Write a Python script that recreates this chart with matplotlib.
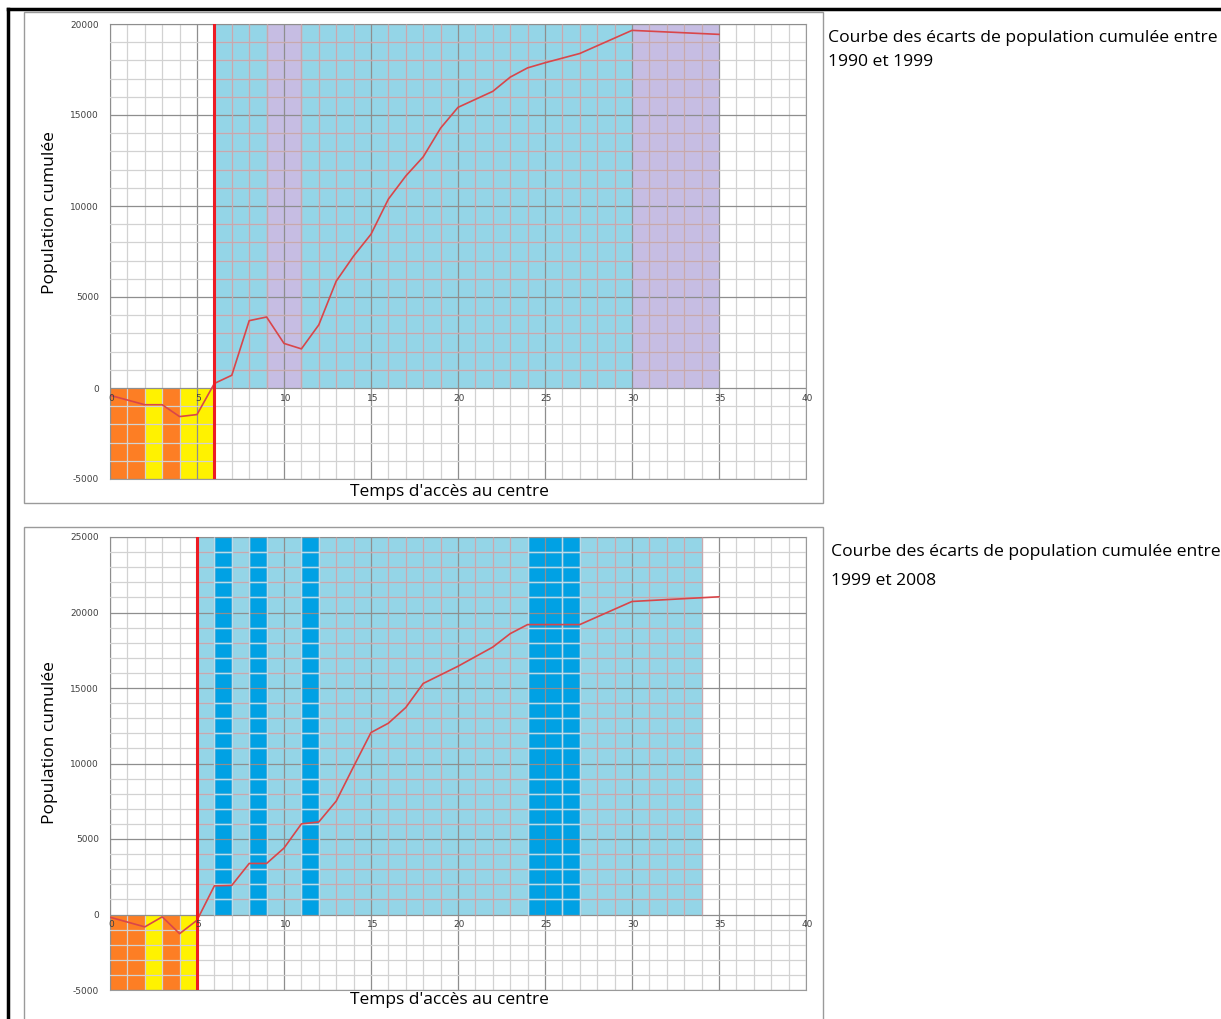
import numpy as np
import matplotlib.pyplot as plt
from matplotlib.lines import Line2D
from matplotlib.patches import Rectangle

plt.rcParams["axes.unicode_minus"] = False

# donnees 1990-1999
x_top = [0, 2, 3, 4, 5, 6, 7, 8, 9, 10, 11, 12, 13, 14, 15, 16, 17, 18, 19, 20,
         22, 23, 24, 25, 27, 30, 35]
y_top = [-400, -920, -920, -1570, -1460, 250, 700, 3700, 3900, 2450, 2150, 3470,
         5870, 7250, 8450, 10380, 11650, 12700, 14280, 15420, 16300, 17080, 17590,
         17870, 18380, 19650, 19430]
# zones (x debut, x fin, y bas, y haut, couleur)
zones_top = [(0, 2, -5000, 0, "orange"), (2, 3, -5000, 0, "jaune"),
             (3, 4, -5000, 0, "orange"), (4, 6, -5000, 0, "jaune"),
             (6, 9, 0, 20000, "bleu"), (9, 11, 0, 20000, "violet"),
             (11, 30, 0, 20000, "bleu"), (30, 35, 0, 20000, "violet")]
seuil_top = 6

# donnees 1999-2008
x_bot = [0, 2, 3, 4, 5, 6, 7, 8, 9, 10, 11, 12, 13, 14, 15, 16, 17, 18, 20,
         22, 23, 24, 27, 30, 35]
y_bot = [-180, -820, -155, -1270, -380, 1900, 1930, 3380, 3380, 4400, 6000, 6130,
         7510, 9800, 12050, 12670, 13710, 15300, 16440, 17710, 18600, 19200,
         19200, 20730, 21040]
zones_bot = [(0, 2, -5000, 0, "orange"), (2, 3, -5000, 0, "jaune"),
             (3, 4, -5000, 0, "orange"), (4, 5, -5000, 0, "jaune"),
             (5, 34, 0, 25000, "bleu"), (6, 7, 0, 25000, "bleu_fonce"),
             (8, 9, 0, 25000, "bleu_fonce"), (11, 12, 0, 25000, "bleu_fonce"),
             (24, 27, 0, 25000, "bleu_fonce")]
seuil_bot = 5

couleurs = {"orange": "#fd7e24", "jaune": "#fff200", "bleu": "#94d5e7",
            "violet": "#c6bde3", "bleu_fonce": "#00a1e4"}

W, H = 1221, 1019
fig = plt.figure(figsize=(W / 100, H / 100), dpi=100)


def px(x0, y0, x1, y1):
    return [x0 / W, 1 - y1 / H, (x1 - x0) / W, (y1 - y0) / H]


def graphe(rect, xs, ys, zones, seuil, ymax, titre, tl1_y, tl2_y, lab_y, xlab_y):
    ax = fig.add_axes(rect)
    ax.set_xlim(0, 40)
    ax.set_ylim(-5000, ymax)
    ax.set_xticks(np.arange(0, 41, 5))
    ax.set_xticks(np.arange(0, 41, 1), minor=True)
    ax.set_yticks(np.arange(-5000, ymax + 1, 5000))
    ax.set_yticks(np.arange(-5000, ymax + 1, 1000), minor=True)
    ax.set_axisbelow(False)
    ax.grid(which="minor", color="#d2d2d2", lw=0.9)
    ax.grid(which="major", color="#8e8e8e", lw=0.9)
    ax.tick_params(which="both", length=0)
    ax.tick_params(axis="y", labelsize=6.5, labelcolor="#404040", pad=8)
    ax.set_xticklabels([])
    for s in ax.spines.values():
        s.set_color("#9a9a9a")

    for x0, x1, b, h, c in zones:
        ax.fill_between([x0, x1], b, h, color=couleurs[c], lw=0, zorder=1)
        if c in ("bleu", "violet"):
            mx = [v for v in range(x0, x1 + 1) if v % 5]
            my = [v for v in range(b, h + 1, 1000) if v % 5000]
            ax.vlines(mx, b, h, color="#c8a8ae", lw=0.9, zorder=2.6)
            ax.hlines(my, x0, x1, color="#c8a8ae", lw=0.9, zorder=2.6)
        if c == "bleu_fonce":
            my = [v for v in range(b, h + 1, 1000) if v % 5000]
            ax.hlines(my, x0, x1, color="#b9dcea", lw=0.9, zorder=2.6)
            ax.vlines([v for v in range(x0, x1 + 1) if v % 5], b, h,
                      color="#b9dcea", lw=0.9, zorder=2.6)

    ax.axvline(seuil, color="#ed1c24", lw=2.2, zorder=5)
    ax.plot(xs, ys, color="#d9464a", lw=1.2, zorder=4)

    for v in range(0, 41, 5):
        ax.annotate(str(v), (v, 0), xytext=(1, -4), textcoords="offset points",
                    ha="center", va="top", fontsize=6.5, color="#404040", zorder=6)

    fig.text(50 / W, 1 - lab_y / H, "Population cumulée", rotation=90,
             ha="center", va="center", fontsize=12.5, family="Open Sans")
    fig.text(449 / W, 1 - xlab_y / H, "Temps d'accès au centre",
             ha="center", va="center", fontsize=12.5, family="Open Sans")
    fig.text(titre[0] / W, 1 - tl1_y / H, titre[2], ha="left", va="center",
             fontsize=12.6, family="Open Sans")
    fig.text(titre[0] / W, 1 - tl2_y / H, titre[3], ha="left", va="center",
             fontsize=12.6, family="Open Sans")
    return ax


graphe(px(110, 24, 806, 479), x_top, y_top, zones_top, seuil_top, 20000,
       (828, 0, "Courbe des écarts de population cumulée entre", "1990 et 1999"),
       38, 62, 213, 492)
graphe(px(110, 537, 806, 990), x_bot, y_bot, zones_bot, seuil_bot, 25000,
       (831, 0, "Courbe des écarts de population cumulée entre", "1999 et 2008"),
       552, 581, 743, 1000)

# cadres des graphiques
for y0, y1 in [(12, 503), (527, 1030)]:
    fig.add_artist(Rectangle((24 / W, 1 - y1 / H), (823 - 24) / W, (y1 - y0) / H,
                             transform=fig.transFigure, fill=False,
                             edgecolor="#9a9a9a", lw=1))
# bordure noire
fig.add_artist(Line2D([8 / W, 8 / W], [0, 1 - 9 / H], transform=fig.transFigure,
                      color="black", lw=2.5))
fig.add_artist(Line2D([8 / W, 1], [1 - 9 / H, 1 - 9 / H], transform=fig.transFigure,
                      color="black", lw=2.5))

fig.savefig("out.png", dpi=100)
